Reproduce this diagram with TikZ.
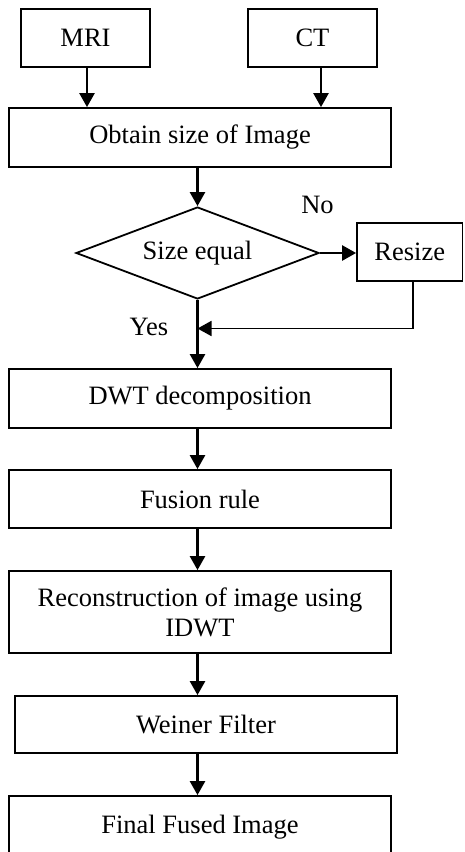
\documentclass[tikz,border=0pt]{standalone}
\usepackage{fontspec}
\setmainfont{Liberation Serif}
\usetikzlibrary{arrows.meta,shapes.geometric}
\begin{document}
\begin{tikzpicture}[x=1pt,y=-1pt,
  box/.style={draw,line width=1.8pt,inner sep=0pt,anchor=center,align=center,
    font=\fontsize{26.5}{30}\selectfont},
  decbox/.style={draw,diamond,line width=1.8pt,inner sep=0pt,aspect=2.64,
    font=\fontsize{26.5}{30}\selectfont},
  lbl/.style={font=\fontsize{26.5}{30}\selectfont,inner sep=0pt},
  arr/.style={line width=2.5pt,-{Triangle[width=15pt,length=14pt]}},
  thinarr/.style={line width=1.8pt,-{Triangle[width=15pt,length=14pt]}}]
\useasboundingbox (0,0) rectangle (464,852);
\clip (0,0) rectangle (464,852);
\node[box,minimum width=129pt,minimum height=58pt] (mri) at (85.5,38) {MRI};
\node[box,minimum width=129pt,minimum height=58pt] (ct) at (312.5,38) {CT};
\node[box,minimum width=382pt,minimum height=59pt] (obtain) at (200,137.5) {Obtain size of Image};
\node[decbox,minimum width=243pt,minimum height=92pt] (dec) at (197.5,253) {Size equal};
\node[box,minimum width=105.5pt,minimum height=58pt] (resize) at (409.75,252) {Resize};
\node[box,minimum width=382pt,minimum height=59pt] (dwt) at (200,398.5) {DWT decomposition};
\node[box,minimum width=382pt,minimum height=58pt] (fusion) at (200,499) {Fusion rule};
\node[box,minimum width=382pt,minimum height=82pt] (recon) at (200,612) {Reconstruction of image using\\IDWT};
\node[box,minimum width=382pt,minimum height=57pt] (weiner) at (206,724.5) {Weiner Filter};
\node[box,minimum width=382pt,minimum height=62pt] (final) at (200,827) {Final Fused Image};
\node[lbl] (no) at (317.5,205) {No};
\node[lbl] (yes) at (149,327) {Yes};
\coordinate (ax) at (197.5,0);
\coordinate (j) at (197.5,328.5);
\draw[arr] ([xshift=1.5pt]mri.south) -- ([xshift=1.5pt]mri.south |- obtain.north);
\draw[arr] ([xshift=8.5pt]ct.south) -- ([xshift=8.5pt]ct.south |- obtain.north);
\draw[arr] (dec.north |- obtain.south) -- (dec.north);
\draw[arr] (dec.east) -- (dec.east -| resize.west);
\draw[thinarr] ([xshift=3.5pt]resize.south) |- (j);
\draw[arr] (dec.south) -- (dec.south |- dwt.north);
\draw[arr] (ax |- dwt.south) -- (ax |- fusion.north);
\draw[arr] (ax |- fusion.south) -- (ax |- recon.north);
\draw[arr] (ax |- recon.south) -- (ax |- weiner.north);
\draw[arr] (ax |- weiner.south) -- (ax |- final.north);
\end{tikzpicture}
\end{document}
